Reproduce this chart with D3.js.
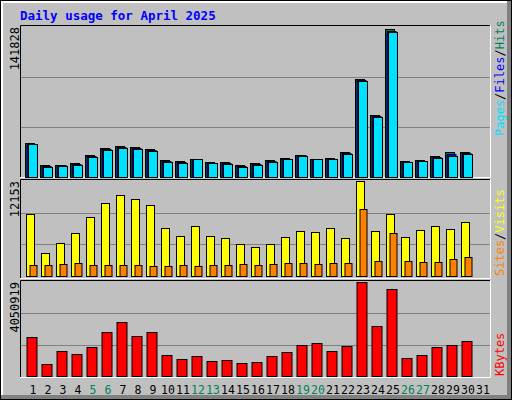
<!DOCTYPE html>
<html><head><meta charset="utf-8">
<script src="https://cdn.jsdelivr.net/npm/d3@7"></script>
<style>body{margin:0;background:#fff}</style>
</head><body>
<div id="chart"></div>
<script>
// data
const days = d3.range(1, 32);
const weekends = [5, 6, 12, 13, 19, 20, 26, 27];
const hits = [31900,11300,11300,13100,20700,27200,29100,28200,26300,16000,15000,16900,14100,14100,11300,13100,16000,17800,20700,16900,17800,23500,93000,58200,139500,15000,16000,19700,23500,23500];
const files = [31500,10400,11000,12200,19800,26500,28300,27400,25400,15300,14200,16900,13400,13400,10400,12200,15300,17200,20500,16900,17200,22600,92000,57300,138500,14600,15500,18800,21300,22600];
const pages = [31200,9500,10800,11500,19000,25800,27800,26700,24600,14600,13500,16600,12800,12700,9500,11500,14600,16600,19900,16600,16600,21900,91000,56500,137500,14200,15000,17800,19400,21700];
const visits = [7970,2880,4180,5490,7580,9280,10330,9800,9020,6140,5100,6400,5100,4840,4050,3660,4050,4970,5750,5620,6140,4840,12153,5750,7970,4970,5880,6400,6010,6930];
const sites = [1440,1440,1570,1700,1440,1440,1440,1440,1310,1310,1440,1310,1440,1440,1570,1440,1570,1700,1700,1570,1700,1700,8630,1960,5490,1960,1830,1830,2220,2480];
const kbytes = [1673000,528000,1057000,969000,1233000,1893000,2334000,1717000,1893000,925000,749000,881000,660000,705000,572000,616000,881000,1013000,1321000,1409000,1057000,1277000,4050919,2158000,3743000,793000,925000,1233000,1321000,1497000];

const W = 512, H = 400;
const svg = d3.select("#chart").append("svg").attr("width", W).attr("height", H);

// outer frame with bevel
svg.append("rect").attr("x", 0).attr("y", 0).attr("width", W).attr("height", H).attr("fill", "#000");
svg.append("rect").attr("x", 1).attr("y", 1).attr("width", W - 2).attr("height", H - 2).attr("fill", "#808080");
svg.append("rect").attr("x", 1).attr("y", 1).attr("width", W - 6).attr("height", H - 6).attr("fill", "#fff");
svg.append("rect").attr("x", 3).attr("y", 3).attr("width", W - 8).attr("height", H - 8).attr("fill", "#C0C0C0");

svg.append("text").attr("x", 20).attr("y", 20)
    .attr("font-family", "DejaVu Sans Mono").attr("font-weight", "bold").attr("font-size", 12.5)
    .attr("fill", "#0000FF").text("Daily usage for April 2025");

const x = d3.scaleBand().domain(days).range([25, 490]).paddingInner(0);
const mono = "DejaVu Sans Mono";

function panel(top, bottom, base, ymax, maxLabel) {
    const y = d3.scaleLinear().domain([0, ymax]).range([base, top + 2]);
    svg.append("rect").attr("x", 20).attr("y", top).attr("width", 471).attr("height", bottom - top)
        .attr("fill", "#C0C0C0");
    [1, 2].forEach(k => svg.append("line").attr("x1", 21).attr("x2", 490)
        .attr("y1", Math.round(y(ymax * k / 3)) + 0.5).attr("y2", Math.round(y(ymax * k / 3)) + 0.5)
        .attr("stroke", "#808080").attr("stroke-width", 1));
    svg.append("path").attr("d", `M20.5,${bottom}V${top + 0.5}H491`).attr("fill", "none").attr("stroke", "#000");
    svg.append("path").attr("d", `M490.5,${top}V${bottom - 0.5}H20`).attr("fill", "none").attr("stroke", "#fff");
    svg.append("text").attr("transform", `translate(19,${top + 2}) rotate(-90)`)
        .attr("text-anchor", "end").attr("font-family", mono).attr("font-size", 12).text(maxLabel);
    return y;
}

function bars(y, data, dx, w, color) {
    svg.append("g").selectAll("rect").data(data).join("rect")
        .attr("x", (d, i) => x(days[i]) + dx + 0.5)
        .attr("y", d => Math.round(y(d)) + 0.5)
        .attr("width", w)
        .attr("height", d => y(0) - Math.round(y(d)))
        .attr("fill", color).attr("stroke", "#000").attr("stroke-width", 1);
}

function sideLabel(yBottom, parts) {
    const t = svg.append("text").attr("transform", `translate(504,${yBottom}) rotate(-90)`)
        .attr("font-family", mono).attr("font-size", 12);
    parts.forEach(p => t.append("tspan").attr("fill", p[1]).text(p[0]));
}

// hits / files / pages
const y1 = panel(25, 178, 177, 141828, "141828");
bars(y1, hits, 0, 9, "#00805C");
bars(y1, files, 1.5, 9, "#0000FF");
bars(y1, pages, 3, 9, "#00E0FF");
sideLabel(136, [["Pages", "#00E0FF"], ["/", "#000"], ["Files", "#0000FF"], ["/", "#000"], ["Hits", "#00805C"]]);

// visits / sites
const y2 = panel(179, 279, 276, 12153, "12153");
bars(y2, visits, 1, 8, "#FFFF00");
bars(y2, sites, 4.5, 7, "#FF8000");
sideLabel(276, [["Sites", "#FF8000"], ["/", "#000"], ["Visits", "#FFFF00"]]);

// kbytes
const y3 = panel(280, 378, 376, 4050919, "4050919");
bars(y3, kbytes, 1.5, 10, "#FF0000");
sideLabel(376, [["KBytes", "#FF0000"]]);

// day labels
svg.append("g").selectAll("text").data(days).join("text")
    .attr("x", d => x(d) + 8).attr("y", 394)
    .attr("text-anchor", "middle").attr("font-family", mono).attr("font-size", 11.5)
    .attr("fill", d => weekends.includes(d) ? "#00805C" : "#000")
    .text(d => d);
</script>
</body></html>
